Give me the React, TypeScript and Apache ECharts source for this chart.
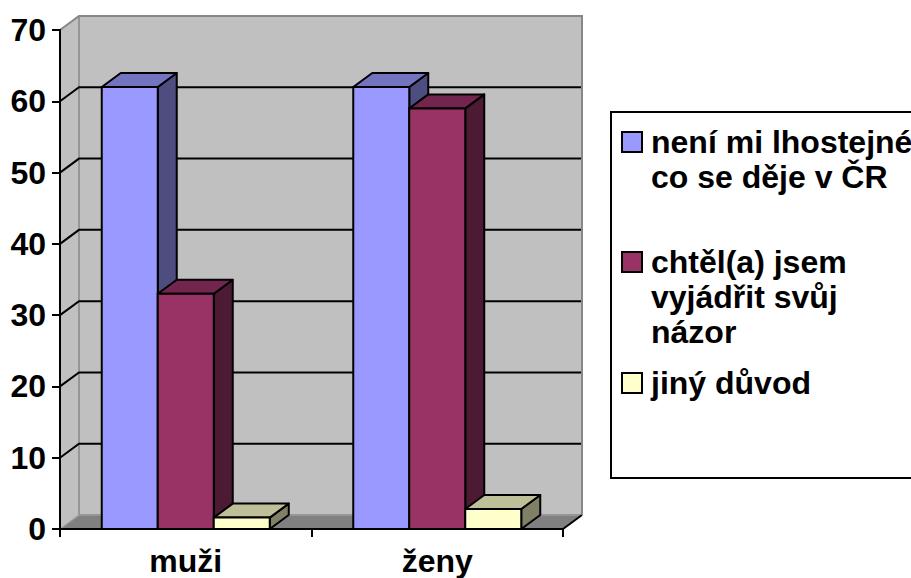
import React, { useEffect, useRef } from 'react';
import * as echarts from 'echarts';

const categories = ['muži', 'ženy'];
const seriesNames = [
  'není mi lhostejné co se děje v ČR',
  'chtěl(a) jsem vyjádřit svůj názor',
  'jiný důvod',
];
const legendLines = [
  ['není mi lhostejné', 'co se děje v ČR'],
  ['chtěl(a) jsem', 'vyjádřit svůj', 'názor'],
  ['jiný důvod'],
];
const valuesNeni = [62, 62];
const valuesChtel = [33, 59];
const valuesJiny = [1.6, 2.8];
const yTicks = [0, 10, 20, 30, 40, 50, 60, 70];

const seriesValues = [valuesNeni, valuesChtel, valuesJiny];

const FRONT = ['#9999FF', '#993366', '#FFFFCC'];
const TOP = ['#7373BF', '#73264D', '#BFBF99'];
const SIDE = ['#4D4D80', '#4D1A33', '#808066'];
const DX = 19;
const DY = 14;
const BAR_RATIO = 56 / 251.5;
const FONT = '"Liberation Sans", Arial, sans-serif';
const FS = 32;

export default function App() {
  const ref = useRef<HTMLDivElement>(null);

  useEffect(() => {
    if (!ref.current) return;
    const chart = echarts.init(ref.current, undefined, { renderer: 'svg' });
    const yMax = yTicks[yTicks.length - 1];

    const frameSeries: any = {
      type: 'custom',
      name: 'frame',
      z: 1,
      silent: true,
      data: yTicks.map((v) => [0, v]),
      encode: { x: 0, y: 1 },
      renderItem: (params: any, api: any) => {
        const cs = params.coordSys;
        const v = api.value(1);
        const xl = cs.x;
        const xr = cs.x + cs.width;
        const y = api.coord([0, v])[1];
        const y0 = api.coord([0, 0])[1];
        const yT = api.coord([0, yMax])[1];
        if (v === 0) {
          return {
            type: 'group',
            children: [
              {
                type: 'polygon',
                shape: { points: [[xl, y0], [xl, yT], [xl + DX, yT - DY], [xl + DX, y0 - DY]] },
                style: { fill: '#C0C0C0', stroke: null },
              },
              {
                type: 'rect',
                shape: { x: xl + DX, y: yT - DY, width: cs.width, height: y0 - yT },
                style: { fill: '#C0C0C0', stroke: null },
              },
              {
                type: 'polygon',
                shape: { points: [[xl, y0], [xl + DX, y0 - DY], [xr + DX, y0 - DY], [xr, y0]] },
                style: { fill: '#808080', stroke: null },
              },
              {
                type: 'polyline',
                shape: { points: [[xl + DX, yT - DY], [xl + DX, y0 - DY], [xr + DX, y0 - DY]] },
                style: { stroke: '#969696', lineWidth: 2, fill: null },
              },
              {
                type: 'line',
                shape: { x1: xl, y1: y0, x2: xl + DX, y2: y0 - DY },
                style: { stroke: '#A0A0A0', lineWidth: 1.5 },
              },
              {
                type: 'line',
                shape: { x1: xr, y1: y0, x2: xr + DX, y2: y0 - DY },
                style: { stroke: '#000', lineWidth: 2 },
              },
            ],
          };
        }
        if (v === yMax) {
          return {
            type: 'polyline',
            shape: { points: [[xl, y], [xl + DX, y - DY], [xr + DX, y - DY], [xr + DX, y0 - DY]] },
            style: { stroke: '#878787', lineWidth: 2, fill: null },
          };
        }
        return {
          type: 'polyline',
          shape: { points: [[xl, y], [xl + DX, y - DY], [xr + DX, y - DY]] },
          style: { stroke: '#000', lineWidth: 2, fill: null },
        };
      },
    };

    const barSeries = seriesValues.map((vals, i) => ({
      type: 'custom',
      name: seriesNames[i],
      z: 3,
      data: vals.map((v, c) => [c, v]),
      encode: { x: 0, y: 1 },
      renderItem: (params: any, api: any) => {
        const c = api.value(0);
        const v = api.value(1);
        const p = api.coord([c, v]);
        const y0 = api.coord([c, 0])[1];
        const yv = p[1];
        const bw = api.size([1, 0])[0] * BAR_RATIO;
        const x0 = p[0] + (i - 1) * bw - bw / 2;
        const x1 = x0 + bw;
        const st = { stroke: '#000', lineWidth: 2, lineJoin: 'round' };
        return {
          type: 'group',
          children: [
            {
              type: 'polygon',
              shape: { points: [[x1, yv], [x1 + DX, yv - DY], [x1 + DX, y0 - DY], [x1, y0]] },
              style: { ...st, fill: SIDE[i] },
            },
            {
              type: 'polygon',
              shape: { points: [[x0, yv], [x0 + DX, yv - DY], [x1 + DX, yv - DY], [x1, yv]] },
              style: { ...st, fill: TOP[i] },
            },
            {
              type: 'rect',
              shape: { x: x0, y: yv, width: bw, height: y0 - yv },
              style: { ...st, fill: FRONT[i] },
            },
          ],
        };
      },
    }));

    const legendTops = [124, 244, 365];
    const legendGraphic: any[] = [
      {
        type: 'rect',
        shape: { x: 611, y: 112, width: 340, height: 366 },
        style: { fill: '#fff', stroke: '#000', lineWidth: 2 },
      },
    ];
    legendLines.forEach((lines, i) => {
      legendGraphic.push({
        type: 'rect',
        shape: { x: 622, y: legendTops[i] + 8, width: 20, height: 20 },
        style: { fill: FRONT[i], stroke: '#000', lineWidth: 2 },
      });
      legendGraphic.push({
        type: 'text',
        x: 651,
        y: legendTops[i],
        style: {
          text: lines.join('\n'),
          font: `bold ${FS}px ${FONT}`,
          fill: '#000',
          lineHeight: 35,
          verticalAlign: 'top',
          align: 'left',
        },
      });
    });

    chart.setOption({
      animation: false,
      backgroundColor: '#fff',
      grid: { left: 60, top: 30, width: 503, height: 499, containLabel: false },
      xAxis: {
        type: 'category',
        data: categories,
        z: 10,
        axisLine: { show: true, lineStyle: { color: '#000', width: 2 } },
        axisTick: { show: true, length: 8, lineStyle: { color: '#000', width: 2 } },
        axisLabel: { fontSize: FS, fontWeight: 'bold', color: '#000', margin: 16, fontFamily: FONT },
        splitLine: { show: false },
      },
      yAxis: {
        type: 'value',
        min: 0,
        max: 70,
        interval: 10,
        z: 10,
        axisLine: { show: true, lineStyle: { color: '#000', width: 2 } },
        axisTick: { show: true, length: 8, lineStyle: { color: '#000', width: 2 } },
        axisLabel: { fontSize: FS, fontWeight: 'bold', color: '#000', margin: 14, fontFamily: FONT },
        splitLine: { show: false },
      },
      graphic: legendGraphic,
      series: [frameSeries, ...barSeries],
    });
    return () => chart.dispose();
  }, []);

  return (
    <div
      ref={ref}
      style={{ position: 'fixed', left: 0, top: 0, width: 911, height: 578, background: '#fff' }}
    />
  );
}
